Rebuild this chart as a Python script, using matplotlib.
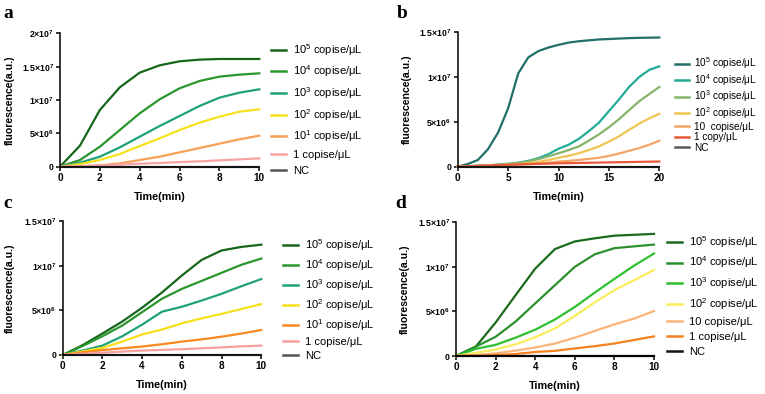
import numpy as np
import matplotlib
matplotlib.use("Agg")
import matplotlib.pyplot as plt
from matplotlib.lines import Line2D

plt.rcParams['font.family'] = ['Liberation Sans', 'DejaVu Sans']
plt.rcParams['mathtext.default'] = 'regular'

# ---------------- data (fluorescence in units of 1e6 a.u.) ----------------
time_a = [0, 1, 2, 3, 4, 5, 6, 7, 8, 9, 10]
a_1e5 = [0, 3.15, 8.5, 11.9, 14.1, 15.2, 15.8, 16.05, 16.15, 16.15, 16.15]
a_1e4 = [0, 1.0, 3.0, 5.5, 8.0, 10.1, 11.75, 12.85, 13.5, 13.8, 14.0]
a_1e3 = [0, 0.6, 1.5, 2.9, 4.5, 6.1, 7.6, 9.1, 10.35, 11.1, 11.6]
a_1e2 = [0, 0.4, 1.0, 1.9, 3.1, 4.25, 5.5, 6.6, 7.5, 8.25, 8.6]
a_1e1 = [0, 0.05, 0.2, 0.5, 1.0, 1.5, 2.15, 2.8, 3.45, 4.1, 4.65]
a_1 = [0, 0.1, 0.2, 0.3, 0.45, 0.55, 0.7, 0.8, 0.95, 1.1, 1.25]
a_nc = [0, 0, 0, 0, 0, 0, 0, 0, 0, 0, 0]

time_b = list(range(21))
b_1e5 = [0, 0.3, 0.75, 1.95, 3.8, 6.5, 10.4, 12.2, 12.9, 13.3, 13.6, 13.85, 14.0,
         14.1, 14.2, 14.25, 14.3, 14.35, 14.38, 14.4, 14.42]
b_1e4 = [0, 0.05, 0.1, 0.15, 0.22, 0.32, 0.45, 0.65, 0.95, 1.4, 2.0, 2.45, 3.1,
         3.96, 4.9, 6.2, 7.5, 8.9, 10.0, 10.8, 11.2]
b_1e3 = [0, 0.05, 0.1, 0.15, 0.22, 0.3, 0.42, 0.6, 0.85, 1.15, 1.5, 1.85, 2.26,
         2.9, 3.6, 4.4, 5.3, 6.3, 7.3, 8.1, 8.9]
b_1e2 = [0, 0.04, 0.08, 0.12, 0.17, 0.23, 0.3, 0.4, 0.55, 0.75, 1.0, 1.22, 1.5,
         1.85, 2.26, 2.8, 3.4, 4.1, 4.8, 5.4, 5.9]
b_10 = [0, 0.03, 0.06, 0.1, 0.13, 0.17, 0.22, 0.28, 0.35, 0.45, 0.57, 0.65, 0.75,
        0.87, 1.0, 1.2, 1.47, 1.77, 2.08, 2.45, 2.9]
b_1 = [0, 0.05, 0.1, 0.14, 0.18, 0.22, 0.26, 0.29, 0.32, 0.35, 0.38, 0.4, 0.42,
       0.44, 0.46, 0.48, 0.5, 0.52, 0.54, 0.56, 0.58]
b_nc = [0] * 21

time_c = [0, 1, 2, 3, 4, 5, 6, 7, 8, 9, 10]
c_1e5 = [0, 1.1, 2.4, 3.75, 5.3, 7.0, 8.9, 10.65, 11.7, 12.1, 12.35]
c_1e4 = [0, 1.0, 2.1, 3.3, 4.8, 6.3, 7.4, 8.3, 9.2, 10.1, 10.8]
c_1e3 = [0, 0.5, 1.05, 2.1, 3.4, 4.85, 5.4, 6.1, 6.85, 7.7, 8.5]
c_1e2 = [0, 0.4, 0.8, 1.5, 2.3, 2.85, 3.55, 4.1, 4.6, 5.15, 5.7]
c_1e1 = [0, 0.3, 0.55, 0.75, 0.95, 1.2, 1.5, 1.75, 2.05, 2.4, 2.8]
c_1 = [0, 0.13, 0.26, 0.38, 0.5, 0.57, 0.65, 0.75, 0.85, 0.97, 1.05]
c_nc = [0] * 11

time_d = [0, 1, 2, 3, 4, 5, 6, 7, 8, 9, 10]
d_1e5 = [0, 1.05, 3.75, 6.8, 9.8, 12.0, 12.85, 13.2, 13.5, 13.6, 13.7]
d_1e4 = [0, 1.05, 2.15, 3.85, 5.9, 7.95, 10.0, 11.4, 12.1, 12.3, 12.5]
d_1e3 = [0, 0.8, 1.25, 2.05, 2.95, 4.1, 5.5, 7.1, 8.65, 10.15, 11.5]
d_1e2 = [0, 0.35, 0.72, 1.3, 2.1, 3.1, 4.5, 6.0, 7.4, 8.5, 9.65]
d_10 = [0, 0.1, 0.3, 0.6, 0.95, 1.4, 2.05, 2.8, 3.55, 4.2, 5.05]
d_1 = [0, 0.03, 0.1, 0.22, 0.45, 0.58, 0.85, 1.1, 1.4, 1.8, 2.2]
d_nc = [0] * 11

labels_a = ["10$^5$ copise/μL", "10$^4$ copise/μL", "10$^3$ copise/μL",
            "10$^2$ copise/μL", "10$^1$ copise/μL", "1 copise/μL", "NC"]
labels_b = ["10$^5$ copise/μL", "10$^4$ copise/μL", "10$^3$ copise/μL",
            "10$^2$ copise/μL", "10  copise/μL", "1 copy/μL", "NC"]
labels_c = labels_a
labels_d = ["10$^5$ copise/μL", "10$^4$ copise/μL", "10$^3$ copise/μL",
            "10$^2$ copise/μL", "10 copise/μL", "1 copise/μL", "NC"]

colors_a = ["#17671b", "#2a962c", "#1fa27a", "#f6e21c", "#f8a055", "#f7a3a3", "#555555"]
colors_b = ["#206f68", "#22ac97", "#86b46c", "#efc452", "#f5a468", "#e8593b", "#5a5a5a"]
colors_c = ["#17671b", "#2a962c", "#1fa27a", "#f6e01c", "#f8891f", "#f7a0a0", "#555555"]
colors_d = ["#1c6a1e", "#2b902d", "#2fbf2f", "#fbec5c", "#fbb47a", "#f5821f", "#111111"]

yticks_a = [0, 5e6, 1e7, 1.5e7, 2e7]
yticklabels_a = ["0", "5×10$^6$", "1×10$^7$", "1.5×10$^7$", "2×10$^7$"]
yticks_bcd = [0, 5e6, 1e7, 1.5e7]
yticklabels_bcd = ["0", "5×10$^6$", "1×10$^7$", "1.5×10$^7$"]

W, H = 765, 394
fig = plt.figure(figsize=(W / 100, H / 100), dpi=100)


def px_axes(x0, y_top, x1, y_bot):
    return fig.add_axes([x0 / W, 1 - y_bot / H, (x1 - x0) / W, (y_bot - y_top) / H])


def style(ax, xmax, xticks, yticks, yticklabels, ymax, ylab_x):
    ax.set_xlim(0, xmax)
    ax.set_ylim(0, ymax)
    ax.spines['top'].set_visible(False)
    ax.spines['right'].set_visible(False)
    for s in ['left', 'bottom']:
        ax.spines[s].set_linewidth(1.1)
    ax.set_xticks(xticks)
    ax.set_xticklabels([str(v) for v in xticks], fontsize=7.2, fontweight='bold')
    ax.set_yticks(yticks)
    ax.set_yticklabels(yticklabels, fontsize=6.3, fontweight='bold')
    ax.tick_params(axis='both', direction='out', length=3, width=1.1, pad=1.5)
    ax.set_xlabel("Time(min)", fontsize=7.8, fontweight='bold', va='center')
    ax.set_ylabel("fluorescence(a.u.)", fontsize=7.6, fontweight='bold', va='center')
    ax.xaxis.set_label_coords(0.5, -0.225)
    ax.yaxis.set_label_coords(ylab_x, 0.5)


def draw(ax, t, series, colors, labels, lw=1.6):
    for s, c, l in zip(series, colors, labels):
        ax.plot(t, np.array(s) * 1e6, color=c, lw=lw, clip_on=False,
                solid_joinstyle='round', label=l)


def legend(x_px, y_top_px, labels, colors, fs, spacing, hl=1.35):
    hs = [Line2D([], [], color=c, lw=1.8) for c in colors]
    fig.legend(hs, labels, loc='upper left', bbox_to_anchor=(x_px / W, 1 - y_top_px / H),
               frameon=False, fontsize=fs, handlelength=hl, handletextpad=0.6,
               labelspacing=spacing, borderpad=0, borderaxespad=0)


# panel a
ax_a = px_axes(60, 33.3, 259.3, 166.7)
draw(ax_a, time_a, [a_1e5, a_1e4, a_1e3, a_1e2, a_1e1, a_1, a_nc], colors_a, labels_a)
style(ax_a, 10, [0, 2, 4, 6, 8, 10], yticks_a, yticklabels_a, 2e7, (10 - 60) / 199.3)
legend(271, 42, labels_a, colors_a, 8, 0.52)

# panel b
ax_b = px_axes(457.7, 32.3, 659.3, 166.7)
draw(ax_b, time_b, [b_1e5, b_1e4, b_1e3, b_1e2, b_10, b_1, b_nc], colors_b, labels_b)
style(ax_b, 20, [0, 5, 10, 15, 20], yticks_bcd, yticklabels_bcd, 1.5e7, (407 - 457.7) / 201.6)
legend(675, 55.5, labels_b, colors_b, 7.2, 0.07)

# panel c
ax_c = px_axes(62.7, 221, 261.3, 355)
draw(ax_c, time_c, [c_1e5, c_1e4, c_1e3, c_1e2, c_1e1, c_1, c_nc], colors_c, labels_c)
style(ax_c, 10, [0, 2, 4, 6, 8, 10], yticks_bcd, yticklabels_bcd, 1.5e7, (10 - 62.7) / 198.6)
legend(283, 237, labels_c, colors_c, 8, 0.38)

# panel d
ax_d = px_axes(456, 222.3, 654, 356)
draw(ax_d, time_d, [d_1e5, d_1e4, d_1e3, d_1e2, d_10, d_1, d_nc], colors_d, labels_d)
style(ax_d, 10, [0, 2, 4, 6, 8, 10], yticks_bcd, yticklabels_bcd, 1.5e7, (405 - 456) / 198)
legend(667, 234, labels_d, colors_d, 8, 0.44)

# panel letters
for txt, x, y in [("a", 3, 5), ("b", 397, 5), ("c", 3, 195), ("d", 395, 195)]:
    fig.text(x / W, 1 - y / H, txt, fontsize=14, fontweight='bold',
             family=['Liberation Serif', 'DejaVu Serif'], va='top', ha='left')

fig.savefig("out.png", dpi=100)
